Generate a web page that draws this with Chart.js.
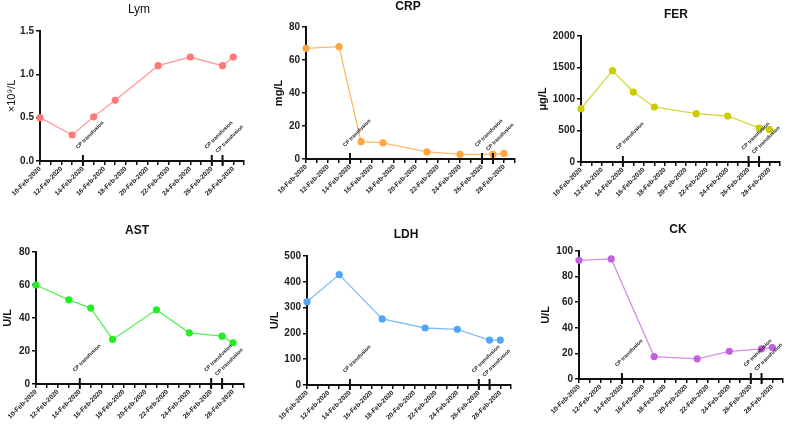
<!DOCTYPE html>
<html><head><meta charset="utf-8">
<script src="https://cdn.jsdelivr.net/npm/chart.js@4.4.1/dist/chart.umd.min.js"></script>
<style>
html,body{margin:0;padding:0;background:#fff;}
body{width:789px;height:429px;position:relative;overflow:hidden;}
.p{position:absolute;}
canvas{display:block;}
</style></head><body>
<div class="p" style="left:0px;top:0px;"><canvas id="c1" width="263" height="215"></canvas></div>
<div class="p" style="left:263px;top:0px;"><canvas id="c2" width="263" height="215"></canvas></div>
<div class="p" style="left:526px;top:0px;"><canvas id="c3" width="263" height="215"></canvas></div>
<div class="p" style="left:0px;top:215px;"><canvas id="c4" width="263" height="214"></canvas></div>
<div class="p" style="left:263px;top:215px;"><canvas id="c5" width="263" height="214"></canvas></div>
<div class="p" style="left:526px;top:215px;"><canvas id="c6" width="263" height="214"></canvas></div>
<script>
// ---- data ----
const xTickDays = [10,12,14,16,18,20,22,24,26,28];
const xTickLabels = ["10-Feb-2020","12-Feb-2020","14-Feb-2020","16-Feb-2020","18-Feb-2020","20-Feb-2020","22-Feb-2020","24-Feb-2020","26-Feb-2020","28-Feb-2020"];
const cpDays = [14,26,27];
const cpLabel = "CP transfusion";

const lymDays = [10,13,15,17,21,24,27,28];
const lymValues = [0.50,0.30,0.51,0.70,1.10,1.20,1.10,1.20];
const crpDays = [10,13,15,17,21,24,27,28];
const crpValues = [67.1,68.1,10.5,9.8,4.3,2.8,2.8,3.4];
const ferDays = [10,13,15,17,21,24,27,28];
const ferValues = [846,1450,1110,873,767,730,540,513];
const astDays = [10,13,15,17,21,24,27,28];
const astValues = [60,51,46,27,45,31,29,25];
const ldhDays = [10,13,17,21,24,27,28];
const ldhValues = [323,428,256,221,216,174,174];
const ckDays = [10,13,17,21,24,27,28];
const ckValues = [92.7,93.8,17.5,15.8,21.6,23.6,24.6];

const FAM = "'Liberation Sans', Arial, sans-serif";
const AX = '#111';

const panelTitle = {
  id:'panelTitle',
  afterDraw(chart, args, o){
    const ctx = chart.ctx;
    ctx.save();
    ctx.font = (o.bold?'bold ':'') + o.size + 'px ' + FAM;
    ctx.fillStyle = '#111';
    ctx.textAlign = 'center';
    ctx.textBaseline = 'middle';
    ctx.fillText(o.text, o.x, o.y);
    ctx.restore();
  }
};
const cpMarks = {
  id:'cpMarks',
  afterDatasetsDraw(chart, args, o){
    const {ctx, chartArea, scales} = chart;
    const x = scales.x;
    ctx.save();
    ctx.strokeStyle = AX; ctx.lineWidth = 2;
    o.days.forEach((d,i)=>{
      const px = x.getPixelForValue(d);
      ctx.beginPath(); ctx.moveTo(px, chartArea.bottom-6); ctx.lineTo(px, chartArea.bottom+5); ctx.stroke();
      ctx.save();
      const dy = (i===2)?8:12;
      ctx.translate(px-5, chartArea.bottom-dy);
      ctx.rotate(-Math.PI/4);
      ctx.font = 'bold 5.2px ' + FAM;
      ctx.fillStyle = '#222';
      ctx.textAlign = 'left'; ctx.textBaseline = 'alphabetic';
      ctx.fillText(cpLabel, 0, 0);
      ctx.restore();
    });
    ctx.restore();
  }
};

function makePanel(id, s){
  const allDays = [];
  for(let d=10; d<=29; d++) allDays.push(d);
  new Chart(document.getElementById(id), {
    type:'line',
    data:{datasets:[{
      data: s.days.map((d,i)=>({x:d, y:s.values[i]})),
      borderColor: s.line, backgroundColor: s.point, pointBackgroundColor: s.point, pointBorderColor: s.point,
      borderWidth: 1.3, pointRadius: 3.6, pointBorderWidth: 0, tension: 0, clip: false
    }]},
    options:{
      responsive:false, animation:false, devicePixelRatio:1,
      layout:{padding:{left:s.padLeft, top:s.area.top, right:s.w - s.area.right, bottom:0}},
      plugins:{
        legend:{display:false}, tooltip:{enabled:false}, title:{display:false},
        panelTitle:{text:s.title, x:s.tx, y:s.ty, bold:s.titleBold, size:12},
        cpMarks:{days:cpDays}
      },
      scales:{
        x:{
          type:'linear', min:10, max:29,
          afterBuildTicks(sc){ sc.ticks = allDays.map(v=>({value:v})); },
          afterFit(sc){ sc.height = s.h - s.area.bottom; sc.paddingLeft = 0; sc.paddingRight = 0; },
          ticks:{autoSkip:false, minRotation:45, maxRotation:45, padding:0, color:'#222',
            font:{size:6.6, weight:'bold', family:FAM},
            callback(v){ const i = xTickDays.indexOf(v); return i>=0 ? xTickLabels[i] : ''; }},
          grid:{drawOnChartArea:false, drawTicks:true, tickLength:4, color:AX, lineWidth:1.5},
          border:{display:true, color:AX, width:2}
        },
        y:{
          min:0, max:s.yMax,
          afterFit(sc){ sc.width = s.area.left - s.padLeft; sc.paddingTop = 0; sc.paddingBottom = 0; },
          ticks:{stepSize:s.yStep, padding:2, color:'#222', font:{size:10, weight:'bold', family:FAM},
            callback(v){ return v.toFixed(s.dec); }},
          grid:{drawOnChartArea:false, drawTicks:true, tickLength:4, color:AX, lineWidth:1.5},
          border:{display:true, color:AX, width:2},
          title:{display:true, text:s.yTitle, color:'#111', padding:0,
            font:{size:s.yTitleSize, weight:s.yTitleBold?'bold':'normal', family:FAM, lineHeight:1.2}}
        }
      }
    },
    plugins:[panelTitle, cpMarks]
  });
}

makePanel('c1', {w:263, h:215, area:{left:40, top:31, right:244, bottom:161}, padLeft:5,
  title:'Lym', titleBold:false, tx:139, ty:10, yTitle:'×10⁹/L', yTitleBold:false, yTitleSize:11,
  yMax:1.5, yStep:0.5, dec:1, days:lymDays, values:lymValues, line:'#FF9C9C', point:'#FF7878'});
makePanel('c2', {w:263, h:215, area:{left:43, top:27, right:252, bottom:159}, padLeft:9,
  title:'CRP', titleBold:true, tx:145, ty:7, yTitle:'mg/L', yTitleBold:true, yTitleSize:11,
  yMax:80, yStep:20, dec:0, days:crpDays, values:crpValues, line:'#FFB965', point:'#FFA63C'});
makePanel('c3', {w:263, h:215, area:{left:55, top:36, right:254, bottom:162}, padLeft:10,
  title:'FER', titleBold:true, tx:150, ty:15, yTitle:'μg/L', yTitleBold:true, yTitleSize:11,
  yMax:2000, yStep:500, dec:0, days:ferDays, values:ferValues, line:'#D6D640', point:'#CCCC00'});
makePanel('c4', {w:263, h:214, area:{left:36, top:37, right:244, bottom:169}, padLeft:1,
  title:'AST', titleBold:true, tx:137, ty:16, yTitle:'U/L', yTitleBold:true, yTitleSize:11,
  yMax:80, yStep:20, dec:0, days:astDays, values:astValues, line:'#55F055', point:'#22EE22'});
makePanel('c5', {w:263, h:214, area:{left:44, top:41, right:248, bottom:170}, padLeft:5,
  title:'LDH', titleBold:true, tx:143, ty:20, yTitle:'U/L', yTitleBold:true, yTitleSize:11,
  yMax:500, yStep:100, dec:0, days:ldhDays, values:ldhValues, line:'#80BDF8', point:'#52A4F7'});
makePanel('c6', {w:263, h:214, area:{left:53, top:36, right:257, bottom:164}, padLeft:13,
  title:'CK', titleBold:true, tx:152, ty:15, yTitle:'U/L', yTitleBold:true, yTitleSize:11,
  yMax:100, yStep:20, dec:0, days:ckDays, values:ckValues, line:'#D290E8', point:'#C360E0'});
</script>
</body></html>
